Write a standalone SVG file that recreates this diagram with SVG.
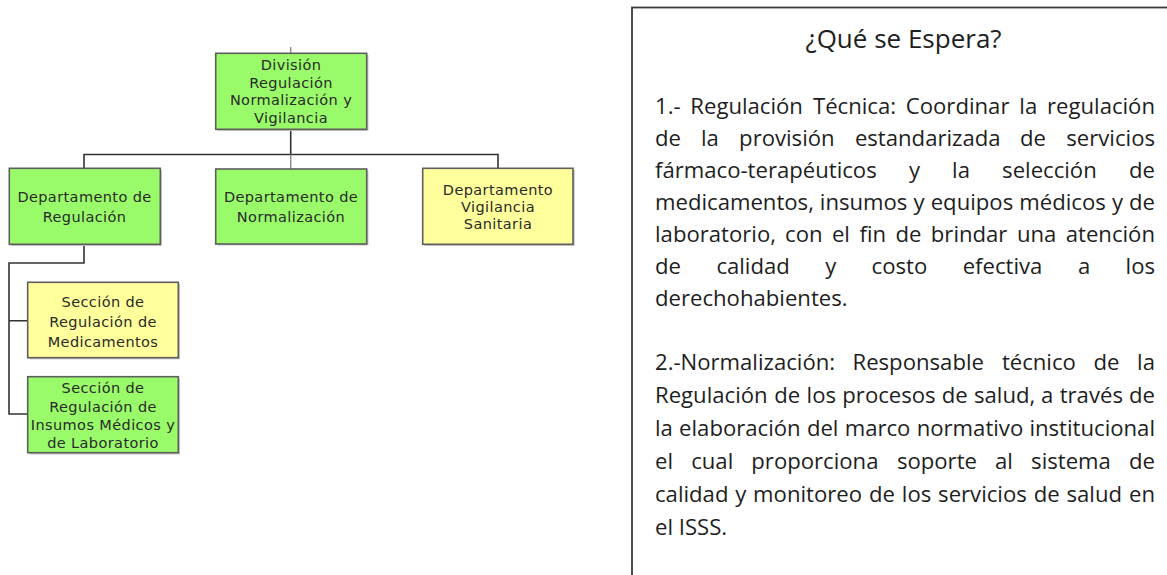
<svg xmlns="http://www.w3.org/2000/svg" width="1167" height="575" viewBox="0 0 1167 575">
<style>
.box{stroke:#5e5e5e;stroke-width:1.6}
.g{fill:#99fb6a}
.y{fill:#ffff9c}
.shadow{fill:#c8c8c8}
.lbl{font-family:"DejaVu Sans",sans-serif;font-size:14.5px;letter-spacing:0.4px;fill:#2a2a2a;text-anchor:middle}
.con{stroke:#333;stroke-width:1.6;fill:none}
.conl{stroke:#8a8a8a;stroke-width:1.4;fill:none}
.body{font-family:"Open Sans",sans-serif;font-size:22.13px;fill:#1e1e1e}
.title{font-family:"Open Sans",sans-serif;font-size:26px;fill:#1e1e1e;text-anchor:middle}
.e{text-anchor:end}
</style>
<rect width="1167" height="575" fill="#ffffff"/>
<g id="connectors">
<path class="conl" d="M290.7 47V53.3"/>
<path class="con" d="M290.7 129.3V154.5M84 168V154.5H498V168"/>
<path class="conl" d="M290.7 154.5V169"/>
<path class="con" d="M84 244V263H9V414H27.7M9 320.7H27.7"/>
</g>
<g id="div">
<rect class="shadow" x="217.5" y="55" width="151" height="76"/>
<rect class="box g" x="215.7" y="53.3" width="151" height="76"/>
<text class="lbl" x="291" y="70">División</text>
<text class="lbl" x="291" y="87.5">Regulación</text>
<text class="lbl" x="291" y="105">Normalización y</text>
<text class="lbl" x="291" y="122.5">Vigilancia</text>
</g>
<g id="dep-reg">
<rect class="shadow" x="11" y="170" width="151" height="76"/>
<rect class="box g" x="9.3" y="168.3" width="151" height="76"/>
<text class="lbl" x="84.5" y="201.5">Departamento de</text>
<text class="lbl" x="84.5" y="221.5">Regulación</text>
</g>
<g id="dep-norm">
<rect class="shadow" x="217.5" y="170.5" width="151" height="75"/>
<rect class="box g" x="215.7" y="169" width="151" height="75"/>
<text class="lbl" x="291" y="202">Departamento de</text>
<text class="lbl" x="291" y="222">Normalización</text>
</g>
<g id="dep-vig">
<rect class="shadow" x="424.5" y="170" width="150.3" height="76"/>
<rect class="box y" x="422.7" y="168.3" width="150.3" height="76"/>
<text class="lbl" x="498" y="195">Departamento</text>
<text class="lbl" x="498" y="212">Vigilancia</text>
<text class="lbl" x="498" y="229">Sanitaria</text>
</g>
<g id="sec-med">
<rect class="shadow" x="29.5" y="284" width="150.6" height="75.4"/>
<rect class="box y" x="27.7" y="282.3" width="150.6" height="75.4"/>
<text class="lbl" x="103" y="306.5">Sección de</text>
<text class="lbl" x="103" y="326.5">Regulación de</text>
<text class="lbl" x="103" y="346.5">Medicamentos</text>
</g>
<g id="sec-ins">
<rect class="shadow" x="29.5" y="378.5" width="150.6" height="76"/>
<rect class="box g" x="27.7" y="376.7" width="150.6" height="76"/>
<text class="lbl" x="103" y="393">Sección de</text>
<text class="lbl" x="103" y="411.5">Regulación de</text>
<text class="lbl" x="103" y="430">Insumos Médicos y</text>
<text class="lbl" x="103" y="447.5">de Laboratorio</text>
</g>
<g id="panel">
<rect x="632" y="7.5" width="560" height="600" fill="#ffffff" stroke="#3a3a3a" stroke-width="1.8"/>
<text class="title" x="903.5" y="48">¿Qué se Espera?</text>
<text class="body" y="114"><tspan x="655">1.-</tspan><tspan x="690.3">Regulación</tspan><tspan x="813">Técnica:</tspan><tspan x="905.8">Coordinar</tspan><tspan x="1019.3">la</tspan><tspan class="e" x="1155">regulación</tspan></text>
<text class="body" y="146"><tspan x="655">de</tspan><tspan x="701">la</tspan><tspan x="739.1">provisión</tspan><tspan x="854.9">estandarizada</tspan><tspan x="1020">de</tspan><tspan class="e" x="1155">servicios</tspan></text>
<text class="body" y="178"><tspan x="655">fármaco-terapéuticos</tspan><tspan x="909">y</tspan><tspan x="952.1">la</tspan><tspan x="1002.1">selección</tspan><tspan class="e" x="1155">de</tspan></text>
<text class="body" y="210"><tspan x="655">medicamentos,</tspan><tspan x="819.8">insumos</tspan><tspan x="913.6">y</tspan><tspan x="930.7">equipos</tspan><tspan x="1019.3">médicos</tspan><tspan x="1112">y</tspan><tspan class="e" x="1155">de</tspan></text>
<text class="body" y="242"><tspan x="655">laboratorio,</tspan><tspan x="785.1">con</tspan><tspan x="831.9">el</tspan><tspan x="859.4">fin</tspan><tspan x="895.5">de</tspan><tspan x="930.8">brindar</tspan><tspan x="1016.9">una</tspan><tspan class="e" x="1155">atención</tspan></text>
<text class="body" y="274"><tspan x="655">de</tspan><tspan x="716.4">calidad</tspan><tspan x="825.3">y</tspan><tspan x="871.6">costo</tspan><tspan x="962.7">efectiva</tspan><tspan x="1077.9">a</tspan><tspan class="e" x="1155">los</tspan></text>
<text class="body" x="655" y="306">derechohabientes.</text>
<text class="body" y="370"><tspan x="655">2.-Normalización:</tspan><tspan x="852.5">Responsable</tspan><tspan x="1001.9">técnico</tspan><tspan x="1093.5">de</tspan><tspan class="e" x="1155">la</tspan></text>
<text class="body" y="403"><tspan x="655">Regulación</tspan><tspan x="774.3">de</tspan><tspan x="806.6">los</tspan><tspan x="842.3">procesos</tspan><tspan x="941.8">de</tspan><tspan x="974">salud,</tspan><tspan x="1041.1">a</tspan><tspan x="1059.7">través</tspan><tspan class="e" x="1155">de</tspan></text>
<text class="body" y="436"><tspan x="655">la</tspan><tspan x="679.1">elaboración</tspan><tspan x="806.9">del</tspan><tspan x="844.7">marco</tspan><tspan x="916.7">normativo</tspan><tspan class="e" x="1155">institucional</tspan></text>
<text class="body" y="469"><tspan x="655">el</tspan><tspan x="691.2">cual</tspan><tspan x="751.3">proporciona</tspan><tspan x="896.9">soporte</tspan><tspan x="995">al</tspan><tspan x="1031.1">sistema</tspan><tspan class="e" x="1155">de</tspan></text>
<text class="body" y="502"><tspan x="655">calidad</tspan><tspan x="735.3">y</tspan><tspan x="753.1">monitoreo</tspan><tspan x="869">de</tspan><tspan x="901.8">los</tspan><tspan x="938.1">servicios</tspan><tspan x="1033.7">de</tspan><tspan x="1066.5">salud</tspan><tspan class="e" x="1155">en</tspan></text>
<text class="body" x="655" y="535">el ISSS.</text>
</g>
</svg>
